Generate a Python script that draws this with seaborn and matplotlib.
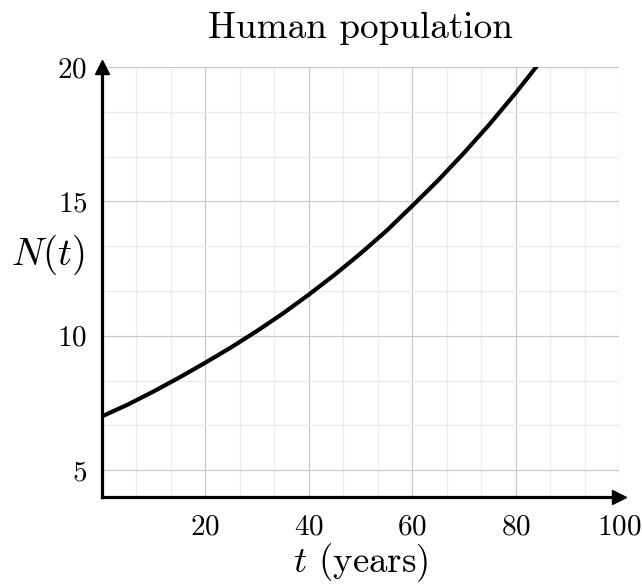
import numpy as np
import pandas as pd
import seaborn as sns
import matplotlib.pyplot as plt
from matplotlib.ticker import AutoMinorLocator

# Population (billions) by years from now
years = [0, 5, 10, 15, 20, 25, 30, 35, 40, 45, 50, 55, 60, 65, 70, 75, 80, 85]
population = [7.00, 7.44, 7.93, 8.45, 9.00, 9.57, 10.18, 10.83, 11.53, 12.27,
              13.06, 13.90, 14.83, 15.78, 16.80, 17.88, 19.03, 20.25]

x_ticks = [20, 40, 60, 80, 100]
y_ticks = [5, 10, 15, 20]

sns.set_theme(style="white")
plt.rcParams.update({
    "font.family": "serif",
    "font.serif": ["cmr10"],
    "mathtext.fontset": "cm",
    "axes.formatter.use_mathtext": True,
    "axes.unicode_minus": False,
    "text.color": "black",
    "axes.labelcolor": "black",
    "xtick.labelcolor": "black",
    "ytick.labelcolor": "black",
})

df = pd.DataFrame({"t": years, "N": population})

fig = plt.figure(figsize=(6.42, 5.87), dpi=100)
ax = fig.add_axes([102 / 642, 90 / 587, 517 / 642, 430 / 587])

sns.lineplot(data=df, x="t", y="N", ax=ax, color="black", linewidth=3.0, zorder=5)

ax.set_xlim(0, 100)
ax.set_ylim(4, 20)
ax.set_xticks(x_ticks)
ax.set_yticks(y_ticks)
ax.xaxis.set_minor_locator(AutoMinorLocator(3))
ax.yaxis.set_minor_locator(AutoMinorLocator(3))

ax.grid(which="major", color="#c9c9c9", linewidth=0.9)
ax.grid(which="minor", color="#ececec", linewidth=0.9)
ax.set_axisbelow(True)

ax.tick_params(which="both", direction="inout", length=5, width=0.9,
               color="#9a9a9a", labelsize=21, pad=8)
ax.tick_params(axis="x", which="major", pad=10)

for side in ("top", "right"):
    ax.spines[side].set_visible(False)
for side in ("left", "bottom"):
    ax.spines[side].set_linewidth(2.3)
    ax.spines[side].set_color("black")
    ax.spines[side].set_zorder(6)

# arrow heads on the axes
ax.plot(1, 0, marker=">", color="black", markersize=10, transform=ax.transAxes,
        clip_on=False, zorder=7)
ax.plot(0, 1, marker="^", color="black", markersize=10, transform=ax.transAxes,
        clip_on=False, zorder=7)

ax.set_title("Human population", fontsize=26.8, pad=21)
ax.set_xlabel(r"$t$ (years)", fontsize=26.5, labelpad=0)
ax.set_ylabel(r"$N(t)$", fontsize=28, rotation=0, ha="center", va="center")
ax.yaxis.set_label_coords(-0.105, 0.563)

fig.savefig("out.png", dpi=100)
